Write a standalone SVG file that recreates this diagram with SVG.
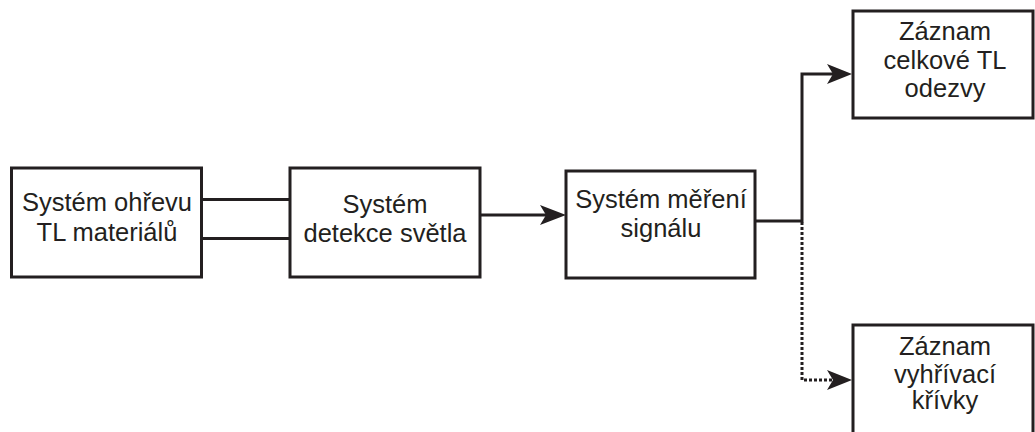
<svg xmlns="http://www.w3.org/2000/svg" width="1035" height="432" viewBox="0 0 1035 432">
<defs>
<style>
.box{fill:#fff;stroke:#231f20;stroke-width:3}
.t{font-family:"Liberation Sans",Arial,sans-serif;font-size:25.5px;fill:#231f20;text-anchor:middle}
.c{fill:none;stroke:#231f20;stroke-width:3}
.d{fill:none;stroke:#231f20;stroke-width:3;stroke-dasharray:3 2}
.ah{fill:#231f20}
</style>
</defs>
<rect width="1035" height="432" fill="#fff"/>
<g id="connectors">
<line class="c" x1="202" y1="199.5" x2="290" y2="199.5"/>
<line class="c" x1="202" y1="238.5" x2="290" y2="238.5"/>
<line class="c" x1="480" y1="215" x2="548" y2="215"/>
<path class="ah" d="M540,205 L566,215 L540,225 L546,215 Z"/>
<polyline class="c" points="755,221 802,221 802,74 834,74"/>
<path class="ah" d="M827,64 L852,74 L827,84 L833,74 Z"/>
<polyline class="d" points="802,222 802,380 834,380"/>
<path class="ah" d="M827,370 L852,380 L827,390 L833,380 Z"/>
</g>
<g id="n1">
<rect class="box" x="11.5" y="168" width="190" height="109"/>
<text class="t" x="107" y="211">Systém ohřevu</text>
<text class="t" x="107" y="241">TL materiálů</text>
</g>
<g id="n2">
<rect class="box" x="290" y="168" width="190" height="109"/>
<text class="t" x="385" y="213">Systém</text>
<text class="t" x="385" y="242">detekce světla</text>
</g>
<g id="n3">
<rect class="box" x="566" y="171" width="189" height="107"/>
<text class="t" x="661" y="208">Systém měření</text>
<text class="t" x="661" y="237">signálu</text>
</g>
<g id="n4">
<rect class="box" x="853" y="11" width="180" height="107"/>
<text class="t" x="945" y="40">Záznam</text>
<text class="t" x="945" y="69">celkové TL</text>
<text class="t" x="945" y="97">odezvy</text>
</g>
<g id="n5">
<rect class="box" x="853" y="325" width="180" height="120"/>
<text class="t" x="945" y="355">Záznam</text>
<text class="t" x="945" y="383">vyhřívací</text>
<text class="t" x="945" y="409">křívky</text>
</g>
</svg>
